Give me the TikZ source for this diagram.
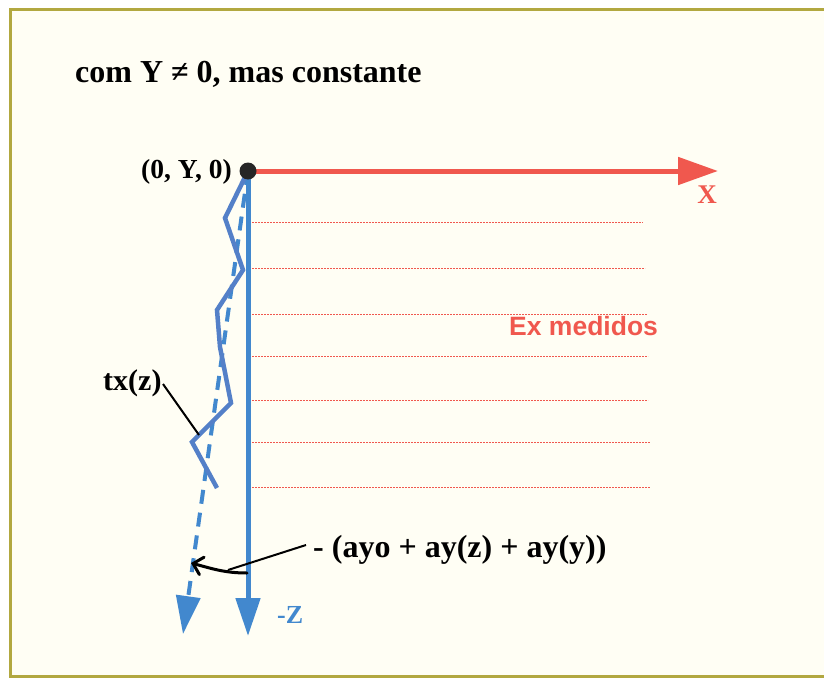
\documentclass[tikz,border=0pt]{standalone}
\usepackage{fontspec}
\setmainfont{Liberation Serif}
\newfontfamily\arialfont{Liberation Sans}
\usetikzlibrary{arrows.meta}
\definecolor{bgivory}{RGB}{255,254,244}
\definecolor{frameol}{RGB}{178,168,64}
\definecolor{axred}{RGB}{240,88,78}
\definecolor{axblue}{RGB}{66,136,206}
\definecolor{zzblue}{RGB}{84,128,200}
\tikzset{
  lbl/.style={inner sep=0pt, font=\bfseries},
  redaxis/.style={draw=axred, line width=5pt, -{Triangle[length=40pt,width=27pt]}},
  blueaxis/.style={draw=axblue, line width=5pt, -{Triangle[length=38pt,width=24pt]}},
  dashaxis/.style={draw=axblue, line width=4pt, dash pattern=on 14pt off 9pt, -{Triangle[length=38pt,width=24pt]}},
  zigzag/.style={draw=zzblue, line width=4.5pt, line join=miter},
  exline/.style={draw=axred, line width=1pt, dash pattern=on 2pt off 1pt},
  leader/.style={draw=black, line width=2pt},
}
\begin{document}
\begin{tikzpicture}[x=1pt,y=-1pt]
\clip (0,0) rectangle (824,677);
\fill[white] (0,0) rectangle (824,677);
\fill[bgivory] (10,10) rectangle (840,676);
\draw[frameol, line width=3pt] (10,10) rectangle (840,676);

% title
\node[lbl, anchor=base west, font=\bfseries\fontsize{32}{36}\selectfont] (title) at (75,82) {com Y ≠ 0, mas constante};

% origin
\coordinate (O) at (248,171);
\coordinate (Xend) at (718,171);
\coordinate (Zend) at (248,636);
\coordinate (Dend) at (183,634);

% Ex measured lines
\foreach \yy/\xe [count=\i] in {222/643,268/645,314/647,356/648,400/648,442/650,487/650}{
  \coordinate (el\i) at (252,\yy);
  \coordinate (er\i) at (\xe,\yy);
  \draw[exline] (el\i) -- (er\i);
}

% axes
\draw[redaxis] (O) -- (Xend);
\draw[dashaxis] (O) -- (Dend);
\draw[blueaxis] (O) -- (Zend);

% zigzag tx(z)
\coordinate (z1) at (225,218);
\coordinate (z2) at (243,270);
\coordinate (z3) at (217,310);
\coordinate (z4) at (220,347);
\coordinate (z5) at (231,403);
\coordinate (z6) at (192,442);
\coordinate (z7) at (217,488);
\draw[zigzag] (O) -- (z1) -- (z2) -- (z3) -- (z4) -- (z5) -- (z6) -- (z7);

\fill[black!85] (O) circle (8.5pt);

% labels
\node[lbl, anchor=base east, font=\bfseries\fontsize{27.5}{30}\selectfont] (orig) at (232,178) {(0, Y, 0)};
\node[lbl, anchor=base, text=axred, font=\bfseries\fontsize{27}{30}\selectfont] (xl) at (707,203) {X};
\node[lbl, anchor=base west, text=axblue, font=\bfseries\fontsize{26}{28}\selectfont] (zl) at (277,623) {-Z};
\node[lbl, anchor=base west, text=axred, font=\arialfont\bfseries\fontsize{26.5}{30}\selectfont] (ex) at (509,335) {Ex medidos};
\node[lbl, anchor=base west, font=\bfseries\fontsize{30}{32}\selectfont] (tx) at (103,390) {tx(z)};
\node[lbl, anchor=base west, font=\bfseries\fontsize{32}{34}\selectfont] (ay) at (313,557) {- (ayo + ay(z) + ay(y))};

% leaders
\coordinate (txs) at (163,384);
\coordinate (txe) at (199,435);
\draw[leader] (txs) -- (txe);
\coordinate (ays) at (306,545);
\coordinate (aym) at (228,570);
\coordinate (ayc) at (247,573);
\coordinate (ayt) at (191,563);
\draw[leader] (ays) -- (aym);
\draw[leader, line width=3pt, line cap=round, -{Straight Barb[length=9pt,width=18pt,line cap=round]}] (ayc) to[out=180,in=-15] (ayt);
\end{tikzpicture}
\end{document}
